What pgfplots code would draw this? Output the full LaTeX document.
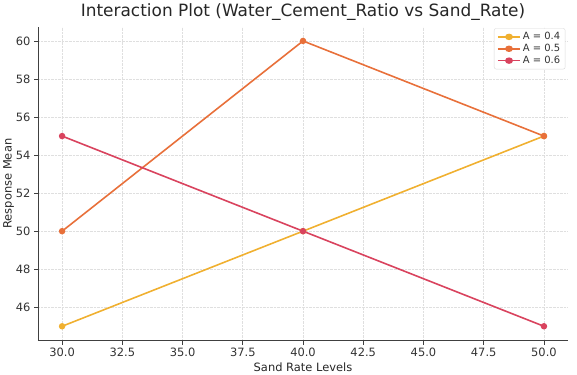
\documentclass[border=0pt]{standalone}
\usepackage{pgfplots}
\pgfplotsset{compat=1.18}
\usepackage{fontspec}
\setmainfont{DejaVu Sans}
\definecolor{cA}{HTML}{F0B030}
\definecolor{cB}{HTML}{E8703A}
\definecolor{cC}{HTML}{D9435E}
\begin{document}
\begin{tikzpicture}
\begin{axis}[
  width=532pt, height=315pt, scale only axis,
  xmin=29, xmax=51, ymin=44.25, ymax=60.75,
  axis lines*=left,
  axis line style={black!75, line width=1pt},
  xtick={30,32.5,...,50},
  ytick={46,48,...,60},
  /pgf/number format/assume math mode=true,
  xticklabel={\pgfmathprintnumber[fixed,fixed zerofill,precision=1]{\tick}},
  tick align=outside,
  tick style={black!75, line width=0.8pt},
  major tick length=4pt,
  ticklabel style={font=\fontsize{11.5}{13}\selectfont, text=black!80},
  grid=major,
  grid style={densely dotted, gray!25, line width=0.6pt},
  xlabel={Sand Rate Levels},
  ylabel={Response Mean},
  label style={font=\fontsize{11.5}{13}\selectfont, text=black!85},
  xlabel style={yshift=1pt},
  ylabel style={yshift=-5pt},
  title={Interaction Plot (Water\_Cement\_Ratio vs Sand\_Rate)},
  title style={font=\fontsize{17}{20}\selectfont, text=black!85, yshift=-3pt},
  legend style={font=\fontsize{10}{12}\selectfont, draw=gray!30, rounded corners=2pt, text=black!80, legend cell align=left, at={(0.995,0.995)}, anchor=north east, row sep=-1pt},
  legend image post style={xscale=1.3},
  every axis plot/.append style={line width=1.6pt, mark=*, mark size=2.4pt},
]
\addplot[color=cA] coordinates {(30,45) (40,50) (50,55)};
\addlegendentry{A = 0.4}
\addplot[color=cB] coordinates {(30,50) (40,60) (50,55)};
\addlegendentry{A = 0.5}
\addplot[color=cC] coordinates {(30,55) (40,50) (50,45)};
\addlegendentry{A = 0.6}
\end{axis}
\path (current axis.north east) ++(9pt,0) coordinate (r);
\path (r) -- (r);
\end{tikzpicture}
\end{document}
